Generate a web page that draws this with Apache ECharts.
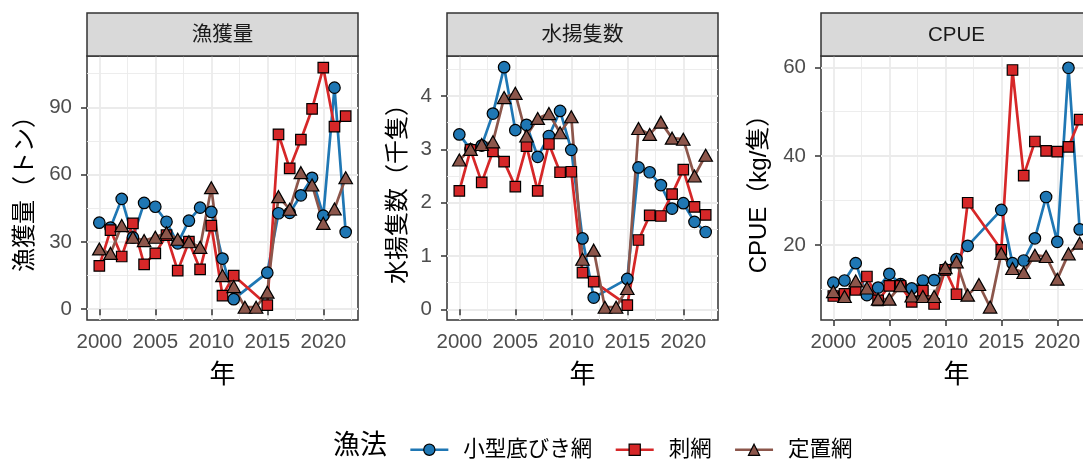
<!DOCTYPE html>
<html>
<head>
<meta charset="utf-8">
<script src="https://cdn.jsdelivr.net/npm/echarts@6/dist/echarts.min.js"></script>
<style>
  html, body { margin: 0; padding: 0; background: #ffffff; overflow: hidden; }
  #chart { width: 1100px; height: 459px; }
</style>
</head>
<body>
<div id="chart"></div>
<script>
// ---- data -------------------------------------------------------------
const years = [2000, 2001, 2002, 2003, 2004, 2005, 2006, 2007, 2008, 2009, 2010, 2011,
               2012, 2013, 2014, 2015, 2016, 2017, 2018, 2019, 2020, 2021, 2022];

const methods = ['小型底びき網', '刺網', '定置網'];
const panelTitles = ['漁獲量', '水揚隻数', 'CPUE'];
const yAxisTitles = ['漁獲量（トン）', '水揚隻数（千隻）', 'CPUE（kg/隻）'];
const xAxisTitle = '年';
const legendTitle = '漁法';

// 漁獲量 (トン)
const catchTrawl = [38.6, 36.4, 49.2, 32.0, 47.4, 45.7, 39.0, 29.4, 39.5, 45.3, 43.4, 22.6,
                    4.5, null, null, 16.3, 42.8, 43.0, 50.8, 58.6, 41.7, 98.8, 34.4];
const catchGillnet = [19.3, 35.3, 23.5, 38.3, 20.0, 24.9, 33.0, 17.2, 30.1, 17.8, 37.3, 6.1,
                      15.0, null, null, 1.8, 78.0, 62.8, 75.6, 89.3, 107.7, 81.4, 86.1];
const catchSetnet = [26.9, 24.9, 37.3, 32.1, 30.6, 32.1, 34.1, 31.2, 30.1, 27.6, 54.2, 15.0,
                     10.1, 0.9, 0.9, 7.6, 50.2, 44.6, 60.9, 55.4, 38.3, 44.7, 58.6];

// 水揚隻数 (千隻)
const boatsTrawl = [3.28, 3.00, 3.07, 3.67, 4.54, 3.36, 3.46, 2.86, 3.25, 3.72, 2.99, 1.33,
                    0.22, null, null, 0.57, 2.66, 2.57, 2.33, 1.89, 1.99, 1.64, 1.45];
const boatsGillnet = [2.22, 2.99, 2.38, 2.96, 2.77, 2.30, 3.06, 2.22, 3.10, 2.57, 2.58, 0.69,
                      0.52, null, null, 0.08, 1.30, 1.76, 1.75, 2.16, 2.62, 1.92, 1.77];
const boatsSetnet = [2.80, 3.00, 3.09, 3.14, 3.97, 4.05, 3.25, 3.58, 3.67, 3.31, 3.61, 0.94,
                     1.11, 0.04, 0.04, 0.39, 3.39, 3.28, 3.51, 3.21, 3.19, 2.50, 2.89];

// CPUE (kg/隻)
const cpueTrawl = [11.5, 12.0, 15.9, 8.7, 10.4, 13.5, 11.2, 10.2, 12.0, 12.1, 14.5, 16.8,
                   19.8, null, null, 27.9, 15.9, 16.5, 21.5, 30.8, 20.7, 59.9, 23.5];
const cpueGillnet = [8.5, 9.0, 9.9, 12.9, 7.5, 10.8, 10.8, 7.2, 9.7, 6.7, 14.4, 8.9,
                     29.5, null, null, 18.9, 59.4, 35.6, 43.3, 41.2, 41.0, 42.1, 48.2];
const cpueSetnet = [9.5, 8.4, 11.9, 10.3, 7.8, 7.8, 10.8, 8.5, 8.4, 8.4, 14.9, 16.2,
                    8.7, 11.1, 6.0, 18.1, 14.7, 13.8, 17.7, 17.4, 12.3, 18.0, 20.4];

// tick labels
const xTicks = [2000, 2005, 2010, 2015, 2020];
const xMinorTicks = [2002.5, 2007.5, 2012.5, 2017.5, 2022.5];
const yTicks = [[0, 30, 60, 90], [0, 1, 2, 3, 4], [20, 40, 60]];
const yMinorTicks = [[15, 45, 75, 105], [0.5, 1.5, 2.5, 3.5, 4.5], [10, 30, 50]];

// ---- layout & style ---------------------------------------------------
const panelValues = [
  [catchTrawl, catchGillnet, catchSetnet],
  [boatsTrawl, boatsGillnet, boatsSetnet],
  [cpueTrawl, cpueGillnet, cpueSetnet]
];
const xRange = [1998.9, 2023.1];
const yRanges = [[-4.8, 112.9], [-0.2, 4.75], [3.1, 62.55]];

const PANEL_LEFT = [87, 447, 821];
const PANEL_TOP = 56;
const PANEL_W = 271;
const PANEL_H = 264;
const STRIP_TOP = 13;
const Y_NAME_GAP = [50, 37, 50];

const colors = ['#1F77B4', '#D62728', '#8C564B'];
const symbols = ['circle', 'rect', 'triangle'];
const symbolSizes = [11.5, 10.5, [13.5, 12]];
const LINE_W = 2.7;

const FONT = "'Liberation Sans', Arial, 'Noto Sans CJK JP', sans-serif";
const GRID_MAJOR = '#EBEBEB';
const DARK = '#333333';

const grids = [], xAxes = [], yAxes = [], series = [], graphics = [];

for (let p = 0; p < 3; p++) {
  grids.push({
    left: PANEL_LEFT[p], top: PANEL_TOP, width: PANEL_W, height: PANEL_H,
    show: true, backgroundColor: '#ffffff', borderColor: DARK, borderWidth: 1.5,
    containLabel: false
  });

  // main x axis
  xAxes.push({
    type: 'value', gridIndex: p, min: xRange[0], max: xRange[1],
    name: xAxisTitle, nameLocation: 'middle', nameGap: 43,
    nameTextStyle: { fontSize: 26, color: '#000', fontFamily: FONT },
    axisLine: { show: false },
    axisTick: { show: true, inside: false, length: 6, customValues: xTicks,
                lineStyle: { color: DARK, width: 1.5 } },
    axisLabel: { show: true, customValues: xTicks, margin: 12, fontSize: 20.5,
                 color: '#4D4D4D', fontFamily: FONT, formatter: v => String(v) },
    splitLine: { show: true, lineStyle: { color: GRID_MAJOR, width: 1.8 } }
  });
  // minor x grid lines
  xAxes.push({
    type: 'value', gridIndex: p, min: xRange[0], max: xRange[1],
    axisLine: { show: false },
    axisTick: { show: false, customValues: xMinorTicks },
    axisLabel: { show: false },
    splitLine: { show: true, lineStyle: { color: GRID_MAJOR, width: 0.9 } }
  });

  // main y axis
  yAxes.push({
    type: 'value', gridIndex: p, min: yRanges[p][0], max: yRanges[p][1],
    name: yAxisTitles[p], nameLocation: 'middle', nameRotate: 90, nameGap: Y_NAME_GAP[p],
    nameTextStyle: { fontSize: 24, color: '#000', fontFamily: FONT },
    axisLine: { show: false },
    axisTick: { show: true, inside: false, length: 6, customValues: yTicks[p],
                lineStyle: { color: DARK, width: 1.5 } },
    axisLabel: { show: true, customValues: yTicks[p], margin: 15, fontSize: 20.5,
                 color: '#4D4D4D', fontFamily: FONT, formatter: v => String(v) },
    splitLine: { show: true, lineStyle: { color: GRID_MAJOR, width: 1.8 } }
  });
  // minor y grid lines
  yAxes.push({
    type: 'value', gridIndex: p, min: yRanges[p][0], max: yRanges[p][1],
    axisLine: { show: false },
    axisTick: { show: false, customValues: yMinorTicks[p] },
    axisLabel: { show: false },
    splitLine: { show: true, lineStyle: { color: GRID_MAJOR, width: 0.9 } }
  });

  // lines first, so every marker sits above every line
  for (let m = 0; m < 3; m++) {
    series.push({
      type: 'line', name: methods[m] + '_line',
      xAxisIndex: p * 2, yAxisIndex: p * 2,
      data: years.map((yr, i) => [yr, panelValues[p][m][i] == null ? '-' : panelValues[p][m][i]]),
      connectNulls: true, symbol: 'none', silent: true, animation: false, z: 2,
      lineStyle: { color: colors[m], width: LINE_W }
    });
  }
  for (let m = 0; m < 3; m++) {
    series.push({
      type: 'line', name: methods[m],
      xAxisIndex: p * 2, yAxisIndex: p * 2,
      data: years.map((yr, i) => [yr, panelValues[p][m][i] == null ? '-' : panelValues[p][m][i]]),
      connectNulls: true, showSymbol: true, showAllSymbol: true,
      symbol: symbols[m], symbolSize: symbolSizes[m],
      silent: true, animation: false, z: 3,
      lineStyle: { width: 0, opacity: 0 },
      itemStyle: { color: colors[m], borderColor: '#000000', borderWidth: 1.2 }
    });
  }

  // facet strip
  graphics.push({
    type: 'rect', z: 10,
    shape: { x: PANEL_LEFT[p], y: STRIP_TOP, width: PANEL_W, height: PANEL_TOP - STRIP_TOP },
    style: { fill: '#D9D9D9', stroke: DARK, lineWidth: 1.5 }
  });
  graphics.push({
    type: 'text', z: 11,
    x: PANEL_LEFT[p] + PANEL_W / 2, y: (STRIP_TOP + PANEL_TOP) / 2 + 1,
    style: { text: panelTitles[p], fill: '#1A1A1A', fontSize: 20.5, fontFamily: FONT,
             align: 'center', verticalAlign: 'middle' }
  });
}

const chart = echarts.init(document.getElementById('chart'), null, { renderer: 'canvas' });
chart.setOption({
  backgroundColor: '#ffffff',
  animation: false,
  textStyle: { fontFamily: FONT },
  title: {
    text: legendTitle, left: 328, top: 428,
    textStyle: { fontSize: 27, fontWeight: 'normal', color: '#000', fontFamily: FONT }
  },
  legend: {
    left: 404, top: 434, orient: 'horizontal',
    itemWidth: 38, itemHeight: 14, itemGap: 22,
    data: methods.map((name, m) => ({
      name: name,
      lineStyle: { color: colors[m], width: LINE_W, opacity: 1 },
      itemStyle: { color: colors[m], borderColor: '#000', borderWidth: 1.2 }
    })),
    textStyle: { fontSize: 21.5, color: '#000', fontFamily: FONT, padding: [0, 0, 0, 10] },
    selectedMode: false
  },
  grid: grids,
  xAxis: xAxes,
  yAxis: yAxes,
  series: series,
  graphic: graphics
});
</script>
</body>
</html>
